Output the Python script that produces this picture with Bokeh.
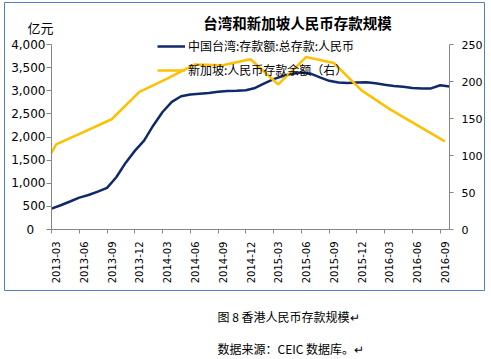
import math
import pandas as pd
from bokeh.plotting import figure
from bokeh.layouts import column
from bokeh.models import (Range1d, LinearAxis, FixedTicker, NumeralTickFormatter,
                          Label, Legend, LegendItem)
from bokeh.embed import file_html
from bokeh.resources import INLINE

# ---------------- data ----------------
months = list(pd.period_range("2013-03", "2016-10", freq="M").strftime("%Y-%m"))

taiwan = [450, 525, 605, 690, 745, 820, 900, 1130, 1440, 1700,
          1920, 2250, 2540, 2760, 2880, 2920, 2935, 2950, 2980, 2995,
          3000, 3010, 3060, 3160, 3250, 3320, 3370, 3395, 3370, 3290,
          3215, 3180, 3165, 3180, 3185, 3160, 3130, 3105, 3085, 3060,
          3050, 3050, 3120, 3090]

sg_months = ["2012-12", "2013-03", "2013-06", "2013-09", "2013-12", "2014-03",
             "2014-06", "2014-09", "2014-12", "2015-03", "2015-06", "2015-09",
             "2015-12", "2016-03", "2016-06", "2016-09"]
singapore = [45, 115, 132, 149, 186, 204, 223, 222, 230, 196, 233, 225,
             188, 163, 141, 119]

tick_labels = ["2013-03", "2013-06", "2013-09", "2013-12", "2014-03", "2014-06",
               "2014-09", "2014-12", "2015-03", "2015-06", "2015-09", "2015-12",
               "2016-03", "2016-06", "2016-09"]

left_ticks = [0, 500, 1000, 1500, 2000, 2500, 3000, 3500, 4000]
right_ticks = [0, 50, 100, 150, 200, 250]

title_text = "台湾和新加坡人民币存款规模"
unit_text = "亿元"
legend_tw = "中国台湾:存款额:总存款:人民币"
legend_sg = "新加坡:人民币存款余额（右）"
caption1 = "图 8 香港人民币存款规模↵"
caption2 = "数据来源：CEIC 数据库。↵"


def month_index(s):
    y, m = map(int, s.split("-"))
    return (y - 2013) * 12 + (m - 3)


tw_x = [month_index(m) for m in months]
lab_x = [month_index(t) + 0.5 for t in tick_labels]
tickmark_x = [month_index(t) for t in tick_labels]
n_last = tw_x[-1]

# Singapore series: quarter-end points sit mid-month; the part before the
# axis start (x = 0) is cut at the axis by linear interpolation.
sg_raw_x = [month_index(m) + 0.5 for m in sg_months]
sg_x, sg_y = [], []
for i, (xv, yv) in enumerate(zip(sg_raw_x, singapore)):
    if xv < 0:
        nx, ny = sg_raw_x[i + 1], singapore[i + 1]
        if nx > 0:
            t = (0 - xv) / (nx - xv)
            sg_x.append(0)
            sg_y.append(yv + t * (ny - yv))
        continue
    sg_x.append(xv)
    sg_y.append(yv)

CJK = "Noto Sans CJK SC"
NUM = "DejaVu Sans"
AX = "#868686"

# ---------------- geometry (pixels) ----------------
W, H = 491, 291
BOX_L, BOX_R, BOX_T, BOX_B = 4, 484, 2, 290        # chart box (= frame)
AX_L, AX_R, AX_T, AX_B = 51, 449, 44, 229          # plotting area inside box

xppu = (AX_R - AX_L) / n_last
x_start = -(AX_L - BOX_L) / xppu
x_end = n_last + (BOX_R - AX_R) / xppu
yppu = (AX_B - AX_T) / left_ticks[-1]
y_start = -(BOX_B - AX_B) / yppu
y_end = left_ticks[-1] + (AX_T - BOX_T) / yppu
rppu = (AX_B - AX_T) / right_ticks[-1]
r_start = -(BOX_B - AX_B) / rppu
r_end = right_ticks[-1] + (AX_T - BOX_T) / rppu

p = figure(width=W, height=H, x_range=Range1d(x_start, x_end),
           y_range=Range1d(y_start, y_end),
           output_backend="svg", toolbar_location=None,
           min_border_left=BOX_L, min_border_right=W - BOX_R,
           min_border_top=BOX_T, min_border_bottom=H - BOX_B)
p.extra_y_ranges = {"right": Range1d(r_start, r_end)}
p.background_fill_color = "white"
p.border_fill_color = "white"
p.outline_line_color = "#4F81BD"
p.outline_line_width = 1
p.xgrid.visible = False
p.ygrid.visible = False

r_tw = p.line(tw_x, taiwan, line_color="#0E2A6B", line_width=2.5)
r_sg = p.line(sg_x, sg_y, line_color="#FFC000", line_width=2.5,
              y_range_name="right")

# x axis
xa = p.xaxis[0]
xa.fixed_location = 0
xa.bounds = (0, n_last)
xa.ticker = FixedTicker(ticks=lab_x, minor_ticks=tickmark_x)
xa.major_label_overrides = {lx: t for lx, t in zip(lab_x, tick_labels)}
xa.major_tick_out = 0
xa.major_tick_in = 0
xa.minor_tick_out = 4
xa.minor_tick_in = 0
xa.minor_tick_line_color = AX
xa.axis_line_color = AX
xa.major_label_orientation = math.pi / 2
xa.major_label_standoff = 8
xa.major_label_text_font = NUM
xa.major_label_text_font_size = "10px"
xa.major_label_text_color = "#000000"

# left axis
ya = p.yaxis[0]
ya.fixed_location = 0
ya.bounds = (0, left_ticks[-1])
ya.ticker = FixedTicker(ticks=left_ticks)
ya.formatter = NumeralTickFormatter(format="0,0")
ya.major_label_overrides = {0: "0\u00a0\u00a0\u00a0"}
ya.major_tick_out = 5
ya.major_tick_in = 0
ya.minor_tick_line_color = None
ya.major_tick_line_color = AX
ya.axis_line_color = AX
ya.major_label_standoff = 1
ya.major_label_text_font = NUM
ya.major_label_text_font_size = "12px"
ya.major_label_text_color = "#000000"

# right axis
ra = LinearAxis(y_range_name="right", ticker=FixedTicker(ticks=right_ticks))
ra.fixed_location = n_last
ra.bounds = (0, right_ticks[-1])
ra.major_tick_out = 4
ra.major_tick_in = 0
ra.minor_tick_line_color = None
ra.major_tick_line_color = AX
ra.axis_line_color = AX
ra.major_label_standoff = 8
ra.major_label_text_font = NUM
ra.major_label_text_font_size = "11px"
ra.major_label_text_color = "#000000"
p.add_layout(ra, "right")

# legend (location relative to the frame's bottom-left corner)
legend = Legend(items=[LegendItem(label=legend_tw, renderers=[r_tw]),
                       LegendItem(label=legend_sg, renderers=[r_sg])],
                location=(157 - BOX_L, BOX_B - 79.5), orientation="vertical",
                glyph_width=28, glyph_height=20, label_height=20, spacing=4,
                padding=0, margin=0, label_standoff=3,
                border_line_color=None, background_fill_alpha=0,
                label_text_font=CJK, label_text_font_size="12px",
                label_text_color="#000000")
p.add_layout(legend)

# title and unit
p.add_layout(Label(x=297 - BOX_L, y=BOX_B - 21.5, x_units="screen", y_units="screen",
                   text=title_text, text_font=CJK, text_font_size="14.5px",
                   text_font_style="bold", text_align="center",
                   text_baseline="middle", text_color="#000000"))
p.add_layout(Label(x=27 - BOX_L, y=BOX_B - 27, x_units="screen", y_units="screen",
                   text=unit_text, text_font=CJK, text_font_size="13px",
                   text_align="left", text_baseline="middle", text_color="#000000"))

# ---------------- captions under the chart box ----------------
CH = 359 - H
pc = figure(width=W, height=CH, x_range=Range1d(0, 1), y_range=Range1d(0, 1),
            output_backend="svg", toolbar_location=None,
            x_axis_location=None, y_axis_location=None,
            min_border=0, min_border_left=0, min_border_right=0,
            min_border_top=0, min_border_bottom=0)
pc.outline_line_color = None
pc.background_fill_color = "white"
pc.border_fill_color = "white"
pc.grid.visible = False

pc.add_layout(Label(x=480, y=CH - 4, x_units="screen", y_units="screen", text="↵",
                    text_font=NUM, text_font_size="8px", text_color="#A0A0A0",
                    text_align="left", text_baseline="middle"))
pc.add_layout(Label(x=213, y=359 - 316, x_units="screen", y_units="screen",
                    text=caption1, text_font=CJK, text_font_size="12px",
                    text_color="#000000", text_align="left", text_baseline="middle"))
pc.add_layout(Label(x=213, y=359 - 348, x_units="screen", y_units="screen",
                    text=caption2, text_font=CJK, text_font_size="12px",
                    text_color="#000000", text_align="left", text_baseline="middle"))

layout = column(p, pc, spacing=0)
open("out.html", "w").write(file_html(layout, INLINE))
